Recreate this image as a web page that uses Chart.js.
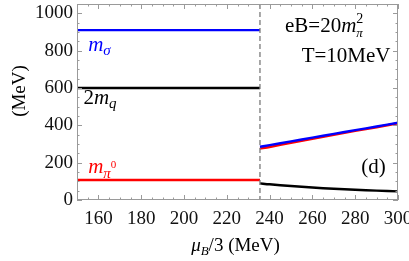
<!DOCTYPE html>
<html>
<head>
<meta charset="utf-8">
<script src="https://cdn.jsdelivr.net/npm/chart.js@4.4.0/dist/chart.umd.min.js"></script>
<style>
  html, body { margin: 0; padding: 0; background: #fff; }
</style>
</head>
<body>
<canvas id="massChart" width="409" height="261"></canvas>
<script>
// axis ticks
const xTicks = [160, 180, 200, 220, 240, 260, 280, 300];
const yTicks = [0, 200, 400, 600, 800, 1000];

// first-order transition at mu_B/3 ~ 235.5 MeV
const muCrit = 235.5;

// below the transition (flat)
const muLow = [150, 235.5];
const sigmaLow = [910, 910];
const quarkLow = [600, 600];
const pionLow = [107, 107];

// above the transition
const muHigh = [235.5, 240, 250, 260, 270, 280, 290, 300];
const sigmaHigh = [285, 294, 314, 334, 354, 374, 394, 414];
const pionHigh = [275, 284, 306, 328, 349, 370, 390, 411];
const quarkHigh = [89, 84, 75, 67, 60, 55, 50, 46];

const serif = '"Liberation Serif", "Times New Roman", Times, serif';

function pts(xs, ys) {
  return xs.map((x, i) => ({ x: x, y: ys[i] }));
}

function line(xs, ys, color) {
  return { data: pts(xs, ys), borderColor: color, borderWidth: 2.4, pointRadius: 0, fill: false, tension: 0.3 };
}

// draws a run of text pieces: [text, style, size, dy, color]
function richText(ctx, x, y, parts) {
  let cx = x;
  parts.forEach(p => {
    ctx.font = p[1] + ' ' + p[2] + 'px ' + serif;
    ctx.fillStyle = p[4];
    ctx.fillText(p[0], cx, y + p[3]);
    cx += ctx.measureText(p[0]).width;
  });
  return cx - x;
}

function textWidth(ctx, parts) {
  let w = 0;
  parts.forEach(p => {
    ctx.font = p[1] + ' ' + p[2] + 'px ' + serif;
    w += ctx.measureText(p[0]).width;
  });
  return w;
}

const framePlugin = {
  id: 'frame',
  afterDatasetsDraw(chart) {
    const { ctx, chartArea: a, scales: { x, y } } = chart;
    ctx.save();

    // dashed line at the transition
    const xc = x.getPixelForValue(muCrit);
    ctx.strokeStyle = '#7a7a7a';
    ctx.lineWidth = 1.3;
    ctx.setLineDash([5, 3]);
    ctx.beginPath();
    ctx.moveTo(xc, a.top);
    ctx.lineTo(xc, a.bottom);
    ctx.stroke();
    ctx.setLineDash([]);

    // frame
    ctx.strokeStyle = '#9a9a9a';
    ctx.lineWidth = 1;
    ctx.strokeRect(a.left + 0.5, a.top + 0.5, a.right - a.left - 1, a.bottom - a.top - 1);

    // inward ticks on all four sides
    ctx.beginPath();
    for (let v = 150; v <= 300; v += 5) {
      const px = Math.round(x.getPixelForValue(v)) + 0.5;
      const len = v % 20 === 0 ? 5 : 2.5;
      ctx.moveTo(px, a.bottom); ctx.lineTo(px, a.bottom - len);
      ctx.moveTo(px, a.top); ctx.lineTo(px, a.top + len);
    }
    for (let v = 0; v <= 1050; v += 50) {
      const py = Math.round(y.getPixelForValue(v)) + 0.5;
      const len = v % 200 === 0 ? 5 : 2.5;
      ctx.moveTo(a.left, py); ctx.lineTo(a.left + len, py);
      ctx.moveTo(a.right, py); ctx.lineTo(a.right - len, py);
    }
    ctx.stroke();

    // curve labels
    ctx.textBaseline = 'alphabetic';
    ctx.textAlign = 'left';
    richText(ctx, x.getPixelForValue(155.2), y.getPixelForValue(797), [
      ['m', 'italic', 21, 0, '#0000ff'], ['σ', 'italic', 15, 4, '#0000ff']]);
    richText(ctx, x.getPixelForValue(153), y.getPixelForValue(513), [
      ['2', 'normal', 21, 0, '#000'], ['m', 'italic', 21, 0, '#000'], ['q', 'italic', 15, 4, '#000']]);
    richText(ctx, x.getPixelForValue(155.2), y.getPixelForValue(146), [
      ['m', 'italic', 21, 0, '#ff0000'], ['π', 'italic', 15, 5, '#ff0000'], ['0', 'normal', 11, -5, '#ff0000']]);

    // parameters, top right
    const eb = [['eB=20', 'normal', 21, 0, '#000'], ['m', 'italic', 21, 0, '#000']];
    const w1 = richText(ctx, 285, y.getPixelForValue(899), eb);
    ctx.font = 'normal 14px ' + serif;
    ctx.fillText('2', 285 + w1, y.getPixelForValue(899) - 9);
    ctx.font = 'italic 13px ' + serif;
    ctx.fillText('π', 285 + w1, y.getPixelForValue(899) + 5);

    ctx.textAlign = 'right';
    ctx.font = 'normal 21px ' + serif;
    ctx.fillText('T=10MeV', x.getPixelForValue(296.5), y.getPixelForValue(739));
    ctx.fillText('(d)', x.getPixelForValue(294.3), y.getPixelForValue(146));

    // axis titles
    ctx.textAlign = 'left';
    const xt = [['μ', 'italic', 19, 0, '#000'], ['B', 'italic', 13, 4, '#000'], ['/3 (MeV)', 'normal', 19, 0, '#000']];
    const wx = textWidth(ctx, xt);
    richText(ctx, (a.left + a.right) / 2 - wx / 2 - 2, 251, xt);

    ctx.translate(25, 91);
    ctx.rotate(-Math.PI / 2);
    ctx.textAlign = 'center';
    ctx.font = 'normal 19px ' + serif;
    ctx.fillStyle = '#000';
    ctx.fillText('(MeV)', 0, 0);

    ctx.restore();
  }
};

const ctx = document.getElementById('massChart').getContext('2d');
const massChart = new Chart(ctx, {
  type: 'line',
  data: {
    datasets: [
      line(muLow, sigmaLow, '#0000ff'),
      line(muHigh, sigmaHigh, '#0000ff'),
      line(muLow, quarkLow, '#000000'),
      line(muHigh, quarkHigh, '#000000'),
      line(muLow, pionLow, '#ff0000'),
      line(muHigh, pionHigh, '#ff0000')
    ]
  },
  options: {
    responsive: false,
    animation: false,
    layout: { padding: 0 },
    plugins: { legend: { display: false }, tooltip: { enabled: false } },
    scales: {
      x: {
        type: 'linear',
        min: 150,
        max: 300,
        afterBuildTicks: s => { s.ticks = xTicks.map(v => ({ value: v })); },
        afterFit: s => { s.height = 61; s.paddingRight = 11; s.paddingLeft = 0; },
        grid: { display: false, drawTicks: false },
        border: { display: false },
        ticks: { font: { family: serif, size: 19 }, color: '#111', padding: 8, maxRotation: 0, callback: v => String(v) }
      },
      y: {
        min: 0,
        max: 1050,
        afterBuildTicks: s => { s.ticks = yTicks.map(v => ({ value: v })); },
        afterFit: s => { s.width = 77; s.paddingTop = 4; s.paddingBottom = 0; },
        grid: { display: false, drawTicks: false },
        border: { display: false },
        ticks: { font: { family: serif, size: 19 }, color: '#111', padding: 4, callback: v => String(v) }
      }
    }
  },
  plugins: [framePlugin]
});
</script>
</body>
</html>
